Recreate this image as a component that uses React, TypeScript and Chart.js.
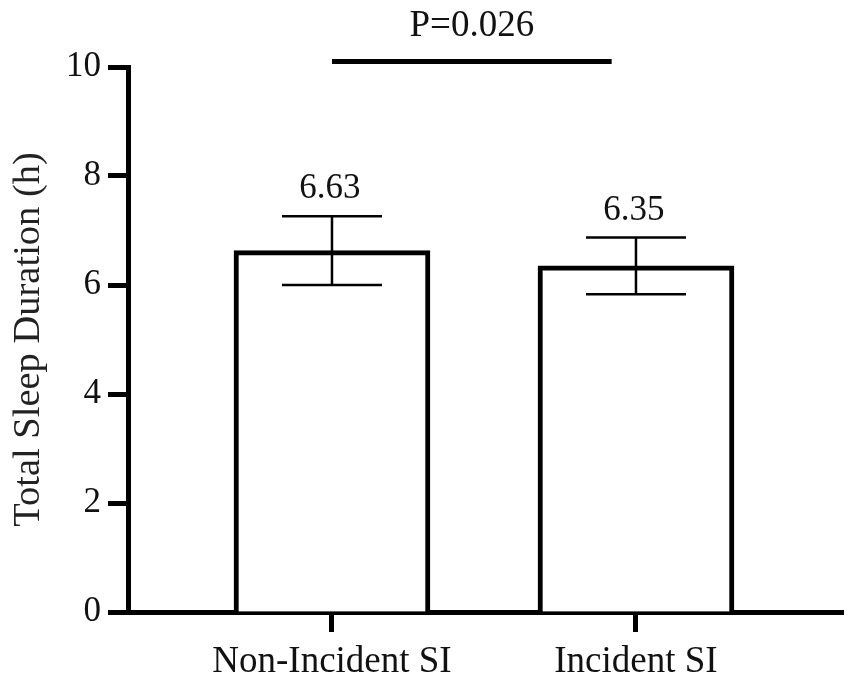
import { useEffect, useRef } from "react";
import { Chart, registerables } from "chart.js";

Chart.register(...registerables);

// data
const categories = ["Non-Incident SI", "Incident SI"];
const positions = [0, 1];
const means = [6.63, 6.35];
const sds = [0.63, 0.52];
const yTicks = [0, 2, 4, 6, 8, 10];
const pValueLabel = "P=0.026";
const pBracketSpan = [0, 0.92];
const pBracketLevel = 10.1;

const serif = '"Liberation Serif", "Times New Roman", serif';
const ink = "#111";

const annotations = {
  id: "annotations",
  afterDatasetsDraw(chart: any) {
    const ctx = chart.ctx as CanvasRenderingContext2D;
    const xs = chart.scales.x;
    const ys = chart.scales.y;
    const meta = chart.getDatasetMeta(0);
    ctx.save();
    ctx.strokeStyle = "#000";
    ctx.fillStyle = ink;
    ctx.textAlign = "center";
    ctx.textBaseline = "alphabetic";
    ctx.font = `35px ${serif}`;
    meta.data.forEach((bar: any, i: number) => {
      const cx = bar.x;
      const top = ys.getPixelForValue(means[i] + sds[i]);
      const bot = ys.getPixelForValue(means[i] - sds[i]);
      ctx.lineWidth = 2.5;
      ctx.beginPath();
      ctx.moveTo(cx, top);
      ctx.lineTo(cx, bot);
      ctx.moveTo(cx - 50, top);
      ctx.lineTo(cx + 50, top);
      ctx.moveTo(cx - 50, bot);
      ctx.lineTo(cx + 50, bot);
      ctx.stroke();
      ctx.fillText(means[i].toFixed(2), cx - 2, top - 18);
    });

    // significance bar
    const py = ys.getPixelForValue(pBracketLevel);
    const x1 = xs.getPixelForValue(pBracketSpan[0]);
    const x2 = xs.getPixelForValue(pBracketSpan[1]);
    ctx.lineWidth = 5;
    ctx.beginPath();
    ctx.moveTo(x1, py);
    ctx.lineTo(x2, py);
    ctx.stroke();
    ctx.font = `37px ${serif}`;
    ctx.fillText(pValueLabel, (x1 + x2) / 2, py - 26);
    ctx.restore();
  },
};

export default function App() {
  const chartRef = useRef<HTMLCanvasElement>(null);
  const chartInstance = useRef<Chart | null>(null);

  useEffect(() => {
    if (chartRef.current) {
      const ctx = chartRef.current.getContext("2d");
      if (ctx) {
        if (chartInstance.current) {
          chartInstance.current.destroy();
        }

        chartInstance.current = new Chart(ctx, {
          type: "bar",
          data: {
            datasets: [
              {
                label: "Total Sleep Duration",
                data: positions.map((p, i) => ({ x: p, y: means[i] })),
                backgroundColor: "#fff",
                borderColor: "#000",
                borderWidth: 5,
                barThickness: 196,
              },
            ],
          },
          options: {
            responsive: true,
            maintainAspectRatio: false,
            animation: false,
            layout: { padding: { left: 0, right: 8, top: 67, bottom: 0 } },
            plugins: {
              legend: { display: false },
              tooltip: { enabled: false },
            },
            scales: {
              x: {
                type: "linear",
                min: -0.671,
                max: 1.681,
                offset: false,
                afterBuildTicks: (scale: any) => {
                  scale.ticks = positions.map((v) => ({ value: v }));
                },
                afterFit: (scale: any) => {
                  scale.height = 73;
                },
                ticks: {
                  autoSkip: false,
                  maxRotation: 0,
                  padding: 8,
                  color: ink,
                  font: { family: serif, size: 37 },
                  callback: (v: any) => categories[positions.indexOf(Number(v))] ?? "",
                },
                grid: {
                  offset: false,
                  drawOnChartArea: false,
                  tickLength: 20,
                  tickWidth: 5,
                  tickColor: "#000",
                },
                border: { display: true, width: 5, color: "#000" },
              },
              y: {
                min: 0,
                max: 10,
                afterBuildTicks: (scale: any) => {
                  scale.ticks = yTicks.map((v) => ({ value: v }));
                },
                afterFit: (scale: any) => {
                  scale.width = 128;
                },
                ticks: {
                  padding: 7,
                  color: ink,
                  font: { family: serif, size: 35 },
                },
                grid: {
                  drawOnChartArea: false,
                  tickLength: 20,
                  tickWidth: 5,
                  tickColor: "#000",
                },
                border: { display: true, width: 5, color: "#000" },
                title: {
                  display: true,
                  text: "Total Sleep Duration (h)",
                  color: "#222",
                  font: { family: serif, size: 38.5 },
                  padding: { top: 6, bottom: 0 },
                },
              },
            },
          },
          plugins: [annotations],
        });
      }
    }

    return () => {
      if (chartInstance.current) {
        chartInstance.current.destroy();
        chartInstance.current = null;
      }
    };
  }, []);

  return (
    <div style={{ position: "absolute", left: 0, top: 0, width: 851, height: 685, background: "#fff" }}>
      <canvas ref={chartRef}></canvas>
    </div>
  );
}
